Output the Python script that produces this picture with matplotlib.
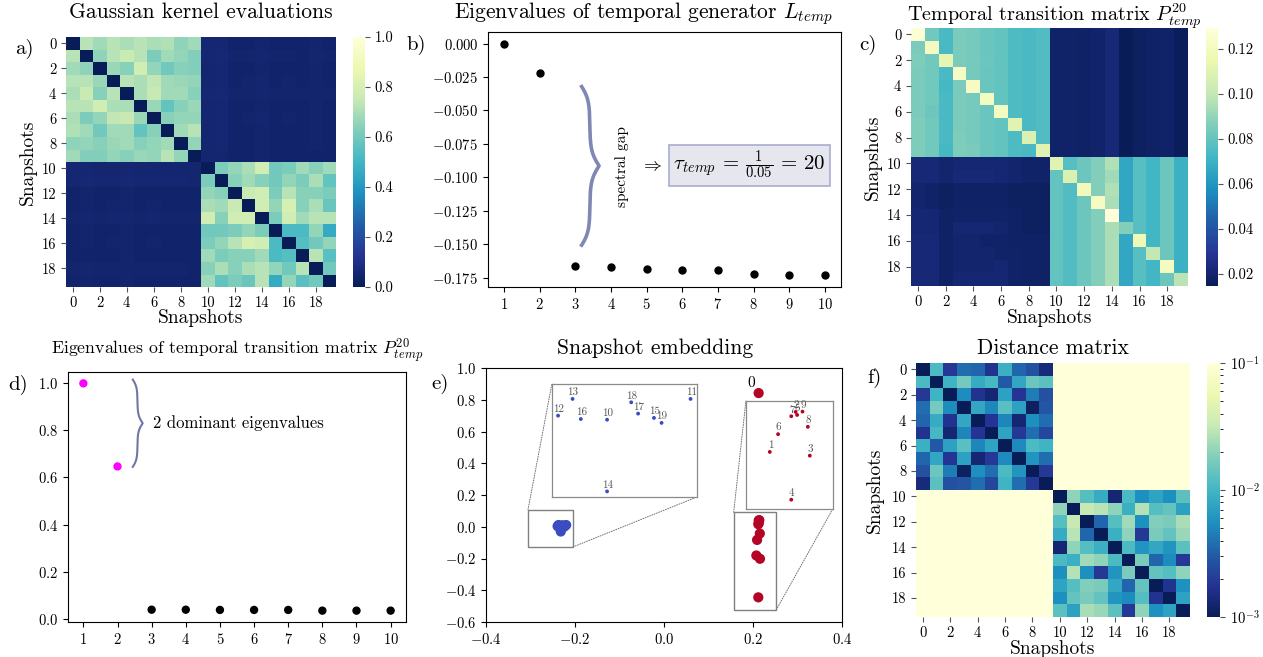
import numpy as np
import matplotlib
matplotlib.use('Agg')
import matplotlib.pyplot as plt
from matplotlib.colors import LogNorm, Normalize
from matplotlib.patches import Rectangle, ConnectionPatch

plt.rcParams['font.family'] = ['cmr10', 'DejaVu Serif']
plt.rcParams['mathtext.fontset'] = 'cm'
plt.rcParams['axes.formatter.use_mathtext'] = True
plt.rcParams['axes.unicode_minus'] = True

CMAP = 'YlGnBu_r'

# ---------------- data ----------------
snapshot_ticks = [str(i) for i in range(0, 20, 2)]

# a) Gaussian kernel evaluations (block top-left, bottom-right, off-diagonal top-right)
kernel_tl = [
    [0.00, 0.72, 0.68, 0.72, 0.70, 0.72, 0.70, 0.71, 0.65, 0.68],
    [0.72, 0.00, 0.65, 0.72, 0.76, 0.72, 0.62, 0.68, 0.66, 0.63],
    [0.68, 0.65, 0.00, 0.67, 0.64, 0.78, 0.66, 0.60, 0.64, 0.63],
    [0.72, 0.72, 0.67, 0.00, 0.72, 0.70, 0.74, 0.68, 0.67, 0.66],
    [0.70, 0.76, 0.64, 0.72, 0.00, 0.70, 0.75, 0.68, 0.68, 0.64],
    [0.72, 0.72, 0.78, 0.70, 0.70, 0.00, 0.67, 0.57, 0.64, 0.67],
    [0.70, 0.62, 0.66, 0.74, 0.75, 0.67, 0.00, 0.64, 0.66, 0.66],
    [0.71, 0.68, 0.60, 0.68, 0.68, 0.57, 0.64, 0.00, 0.68, 0.72],
    [0.65, 0.66, 0.64, 0.67, 0.68, 0.64, 0.66, 0.68, 0.00, 0.66],
    [0.68, 0.63, 0.63, 0.66, 0.64, 0.67, 0.66, 0.72, 0.66, 0.00],
]
kernel_br = [
    [0.00, 0.62, 0.66, 0.70, 0.78, 0.60, 0.62, 0.68, 0.64, 0.68],
    [0.62, 0.00, 0.64, 0.68, 0.64, 0.60, 0.66, 0.62, 0.70, 0.57],
    [0.66, 0.64, 0.00, 0.76, 0.78, 0.62, 0.72, 0.64, 0.64, 0.62],
    [0.70, 0.68, 0.76, 0.00, 0.78, 0.66, 0.80, 0.64, 0.70, 0.58],
    [0.78, 0.64, 0.78, 0.78, 0.00, 0.62, 0.78, 0.68, 0.72, 0.72],
    [0.60, 0.60, 0.62, 0.66, 0.62, 0.00, 0.52, 0.52, 0.66, 0.46],
    [0.62, 0.66, 0.72, 0.80, 0.78, 0.52, 0.00, 0.54, 0.60, 0.66],
    [0.68, 0.62, 0.64, 0.64, 0.68, 0.52, 0.54, 0.00, 0.72, 0.55],
    [0.64, 0.70, 0.64, 0.70, 0.72, 0.66, 0.60, 0.72, 0.00, 0.60],
    [0.68, 0.57, 0.62, 0.58, 0.72, 0.46, 0.66, 0.55, 0.60, 0.00],
]
kernel_off = [
    [0.055, 0.055, 0.040, 0.040, 0.045, 0.040, 0.040, 0.040, 0.045, 0.040],
    [0.055, 0.060, 0.045, 0.045, 0.050, 0.045, 0.045, 0.040, 0.050, 0.045],
    [0.050, 0.055, 0.040, 0.040, 0.045, 0.040, 0.040, 0.040, 0.045, 0.040],
    [0.050, 0.055, 0.040, 0.045, 0.050, 0.040, 0.045, 0.040, 0.045, 0.040],
    [0.055, 0.060, 0.045, 0.045, 0.050, 0.045, 0.045, 0.045, 0.045, 0.045],
    [0.050, 0.055, 0.040, 0.040, 0.045, 0.040, 0.040, 0.040, 0.045, 0.040],
    [0.050, 0.055, 0.040, 0.045, 0.050, 0.040, 0.045, 0.040, 0.045, 0.040],
    [0.050, 0.055, 0.040, 0.040, 0.045, 0.040, 0.040, 0.040, 0.045, 0.040],
    [0.050, 0.055, 0.040, 0.040, 0.045, 0.040, 0.040, 0.040, 0.045, 0.040],
    [0.050, 0.050, 0.040, 0.040, 0.045, 0.040, 0.040, 0.040, 0.040, 0.040],
]

# b) eigenvalues of temporal generator
eig_index = [1, 2, 3, 4, 5, 6, 7, 8, 9, 10]
gen_eigs = [0.0, -0.0218, -0.1666, -0.1671, -0.1686, -0.1690, -0.1696, -0.1723, -0.1728, -0.1733]

# c) temporal transition matrix P^20
trans_tl = [
    [0.127, 0.083, 0.074, 0.085, 0.084, 0.081, 0.080, 0.075, 0.074, 0.076],
    [0.085, 0.120, 0.074, 0.085, 0.084, 0.081, 0.080, 0.075, 0.074, 0.076],
    [0.086, 0.083, 0.112, 0.085, 0.084, 0.082, 0.080, 0.075, 0.074, 0.076],
    [0.085, 0.083, 0.074, 0.122, 0.084, 0.081, 0.080, 0.075, 0.074, 0.076],
    [0.085, 0.083, 0.073, 0.085, 0.122, 0.081, 0.080, 0.075, 0.074, 0.076],
    [0.085, 0.083, 0.074, 0.085, 0.084, 0.120, 0.080, 0.075, 0.074, 0.076],
    [0.085, 0.082, 0.074, 0.085, 0.084, 0.081, 0.120, 0.075, 0.074, 0.076],
    [0.086, 0.083, 0.074, 0.085, 0.084, 0.081, 0.080, 0.110, 0.074, 0.076],
    [0.086, 0.083, 0.074, 0.086, 0.084, 0.081, 0.080, 0.075, 0.108, 0.076],
    [0.086, 0.083, 0.073, 0.086, 0.085, 0.081, 0.080, 0.075, 0.074, 0.110],
]
trans_tr = [
    [0.019, 0.019, 0.018, 0.0195, 0.022, 0.0147, 0.017, 0.018, 0.019, 0.016],
    [0.019, 0.019, 0.018, 0.0195, 0.022, 0.0150, 0.017, 0.018, 0.019, 0.016],
    [0.019, 0.019, 0.018, 0.0195, 0.022, 0.0150, 0.017, 0.018, 0.019, 0.016],
    [0.019, 0.019, 0.018, 0.0195, 0.022, 0.0150, 0.017, 0.018, 0.019, 0.016],
    [0.019, 0.019, 0.018, 0.0195, 0.022, 0.0150, 0.017, 0.018, 0.019, 0.016],
    [0.019, 0.019, 0.018, 0.0195, 0.022, 0.0150, 0.017, 0.018, 0.019, 0.016],
    [0.019, 0.019, 0.018, 0.0195, 0.022, 0.0150, 0.017, 0.018, 0.019, 0.016],
    [0.019, 0.019, 0.018, 0.0195, 0.022, 0.0150, 0.017, 0.018, 0.019, 0.016],
    [0.019, 0.019, 0.018, 0.0195, 0.022, 0.0150, 0.017, 0.018, 0.019, 0.016],
    [0.019, 0.019, 0.018, 0.0195, 0.022, 0.0150, 0.017, 0.018, 0.019, 0.016],
]
trans_bl = [
    [0.022, 0.022, 0.020, 0.021, 0.021, 0.021, 0.021, 0.020, 0.019, 0.019],
    [0.022, 0.022, 0.020, 0.022, 0.022, 0.022, 0.021, 0.020, 0.019, 0.019],
    [0.020, 0.019, 0.017, 0.018, 0.018, 0.018, 0.018, 0.017, 0.017, 0.017],
    [0.020, 0.019, 0.017, 0.018, 0.018, 0.018, 0.018, 0.017, 0.017, 0.017],
    [0.021, 0.021, 0.018, 0.019, 0.019, 0.019, 0.019, 0.018, 0.017, 0.017],
    [0.021, 0.021, 0.018, 0.021, 0.021, 0.021, 0.020, 0.018, 0.017, 0.017],
    [0.022, 0.022, 0.018, 0.020, 0.020, 0.019, 0.019, 0.018, 0.018, 0.018],
    [0.022, 0.022, 0.018, 0.020, 0.020, 0.020, 0.019, 0.019, 0.018, 0.018],
    [0.022, 0.022, 0.018, 0.020, 0.020, 0.020, 0.021, 0.019, 0.018, 0.018],
    [0.022, 0.022, 0.018, 0.021, 0.021, 0.021, 0.021, 0.019, 0.018, 0.018],
]
trans_br = [
    [0.110, 0.077, 0.082, 0.087, 0.096, 0.066, 0.077, 0.072, 0.082, 0.070],
    [0.080, 0.108, 0.082, 0.087, 0.093, 0.066, 0.077, 0.072, 0.082, 0.070],
    [0.080, 0.076, 0.118, 0.087, 0.096, 0.066, 0.077, 0.072, 0.082, 0.070],
    [0.080, 0.076, 0.082, 0.121, 0.095, 0.066, 0.077, 0.072, 0.082, 0.070],
    [0.080, 0.076, 0.082, 0.087, 0.1293, 0.066, 0.077, 0.072, 0.082, 0.070],
    [0.080, 0.076, 0.082, 0.087, 0.095, 0.087, 0.077, 0.072, 0.082, 0.070],
    [0.080, 0.076, 0.082, 0.087, 0.095, 0.066, 0.116, 0.072, 0.082, 0.070],
    [0.080, 0.076, 0.082, 0.087, 0.095, 0.066, 0.077, 0.100, 0.082, 0.070],
    [0.080, 0.076, 0.082, 0.087, 0.095, 0.066, 0.077, 0.072, 0.120, 0.070],
    [0.080, 0.076, 0.082, 0.087, 0.095, 0.066, 0.077, 0.072, 0.082, 0.098],
]

# d) eigenvalues of P^20
trans_eigs = [1.0, 0.647, 0.038, 0.038, 0.037, 0.037, 0.037, 0.034, 0.034, 0.034]
dominant_count = 2

# e) snapshot embedding
emb_x = [0.2127, 0.2075, 0.2128, 0.2157, 0.2119, 0.2131, 0.2092, 0.2119, 0.2153, 0.2142,
         -0.2320, -0.2199, -0.2391, -0.2370, -0.2320, -0.2252, -0.2358, -0.2275, -0.2285, -0.2241]
emb_y = [0.842, -0.181, 0.0398, -0.2016, -0.4447, 0.0231, -0.083, 0.016, -0.0425, 0.0416,
         0.0017, 0.0109, 0.0035, 0.0109, -0.0300, 0.0025, 0.0020, 0.0044, 0.0094, 0.0003]
emb_cluster = [0] * 10 + [1] * 10
zoom_red_lims = ((0.2026, 0.2204), (-0.496, 0.100))
zoom_blue_lims = ((-0.240, -0.219), (-0.0325, 0.0175))
box_red = ((0.1566, 0.2524), (-0.5223, 0.0908))
box_blue = ((-0.3056, -0.2045), (-0.127, 0.1076))

# f) distance matrix
dist_tl = [
    [0.0008, 0.011, 0.0019, 0.0038, 0.0035, 0.0017, 0.009, 0.0035, 0.0026, 0.0014],
    [0.011, 0.0008, 0.0098, 0.016, 0.0085, 0.0105, 0.0029, 0.0078, 0.015, 0.013],
    [0.0019, 0.0098, 0.0008, 0.0054, 0.0017, 0.0013, 0.0072, 0.0018, 0.0045, 0.0026],
    [0.0038, 0.016, 0.0054, 0.0008, 0.0078, 0.005, 0.0125, 0.0072, 0.0011, 0.0028],
    [0.0035, 0.0085, 0.0017, 0.0078, 0.0008, 0.0018, 0.005, 0.0013, 0.0056, 0.0038],
    [0.0017, 0.0105, 0.0013, 0.005, 0.0018, 0.0008, 0.0075, 0.0019, 0.0038, 0.0023],
    [0.009, 0.0029, 0.0072, 0.0125, 0.005, 0.0075, 0.0008, 0.0052, 0.011, 0.0098],
    [0.0035, 0.0078, 0.0018, 0.0072, 0.0013, 0.0019, 0.0052, 0.0008, 0.006, 0.0038],
    [0.0026, 0.015, 0.0045, 0.0011, 0.0056, 0.0038, 0.011, 0.006, 0.0008, 0.0019],
    [0.0014, 0.013, 0.0026, 0.0028, 0.0038, 0.0023, 0.0098, 0.0038, 0.0019, 0.0008],
]
dist_br = [
    [0.0008, 0.020, 0.012, 0.0085, 0.0013, 0.011, 0.0056, 0.0075, 0.0056, 0.013],
    [0.020, 0.0008, 0.032, 0.028, 0.020, 0.009, 0.027, 0.012, 0.014, 0.0072],
    [0.012, 0.032, 0.0008, 0.0035, 0.012, 0.023, 0.0056, 0.018, 0.017, 0.025],
    [0.0085, 0.028, 0.0035, 0.0008, 0.009, 0.020, 0.0019, 0.017, 0.014, 0.022],
    [0.0013, 0.020, 0.012, 0.009, 0.0008, 0.011, 0.006, 0.0078, 0.006, 0.013],
    [0.011, 0.009, 0.023, 0.020, 0.011, 0.0008, 0.017, 0.0035, 0.0053, 0.0019],
    [0.0056, 0.027, 0.0056, 0.0019, 0.006, 0.017, 0.0008, 0.014, 0.012, 0.020],
    [0.0075, 0.012, 0.018, 0.017, 0.0078, 0.0035, 0.014, 0.0008, 0.0017, 0.0057],
    [0.0056, 0.014, 0.017, 0.014, 0.006, 0.0053, 0.012, 0.0017, 0.0008, 0.0073],
    [0.013, 0.0072, 0.025, 0.022, 0.013, 0.0019, 0.020, 0.0057, 0.0073, 0.0008],
]
dist_between = 0.3  # between-cluster distances (above colour range)

# ---------------- figure ----------------
W, H = 1263, 657
fig = plt.figure(figsize=(W / 100, H / 100), dpi=100)


def px_axes(l, t, r, b):
    return fig.add_axes([l / W, 1 - b / H, (r - l) / W, (b - t) / H])


def assemble(tl, tr, bl, br):
    return np.block([[np.array(tl), np.array(tr)], [np.array(bl), np.array(br)]])


def heatmap(ax, cax, M, norm):
    n = M.shape[0]
    mesh = ax.pcolormesh(M, cmap=CMAP, norm=norm, edgecolors='face', linewidth=0)
    ax.set_xlim(0, n)
    ax.set_ylim(n, 0)
    pos = np.arange(0, n, 2) + 0.5
    ax.set_xticks(pos)
    ax.set_xticklabels(snapshot_ticks)
    ax.set_yticks(pos)
    ax.set_yticklabels(snapshot_ticks, rotation=0)
    for s in ax.spines.values():
        s.set_visible(False)
    ax.tick_params(labelsize=10.5, color='#555555')
    cb = fig.colorbar(mesh, cax=cax)
    cb.outline.set_visible(False)
    cax.tick_params(labelsize=10.5, color='#555555')
    return cb


def brace(ax, x0, width, y0, y1, color, lw):
    n = 401
    t = np.linspace(0, 1, n)
    half = t[:n // 2 + 1]
    beta = 22.0
    h = 1 / (1 + np.exp(-beta * (half - half[0]))) + 1 / (1 + np.exp(-beta * (half - half[-1])))
    prof = np.concatenate((h, h[-2::-1])) - 0.5
    ax.plot(x0 + width * prof, y0 + (y1 - y0) * t, transform=ax.transAxes,
            color=color, lw=lw, clip_on=False, solid_capstyle='butt')


def label(x, y, s):
    fig.text(x / W, 1 - y / H, s, fontsize=15, ha='center', va='center')


# a) kernel
kernel_tr = np.array(kernel_off)
K = assemble(kernel_tl, kernel_tr, kernel_tr.T, kernel_br)
ax_a = px_axes(66, 37, 336, 287)
cax_a = px_axes(353, 37, 365, 287)
cb_a = heatmap(ax_a, cax_a, K, Normalize(vmin=0, vmax=1))
cb_a.set_ticks([0.0, 0.2, 0.4, 0.6, 0.8, 1.0])
cb_a.set_ticklabels(['0.0', '0.2', '0.4', '0.6', '0.8', '1.0'])
ax_a.set_title('Gaussian kernel evaluations', fontsize=15.5, pad=13.5)
ax_a.set_xlabel('Snapshots', fontsize=14)
ax_a.set_ylabel('Snapshots', fontsize=14)
ax_a.xaxis.set_label_coords(0.5, -0.09)
ax_a.yaxis.set_label_coords(-0.108, 0.5)
label(24, 49, 'a)')

# b) generator eigenvalues
ax_b = px_axes(488, 32, 841, 287)
ax_b.scatter(eig_index, gen_eigs, s=25, color='black', zorder=3)
ax_b.set_xticks(eig_index)
ax_b.tick_params(labelsize=10.5)
t_b = ax_b.set_title(r'Eigenvalues of temporal generator $L_{temp}$', fontsize=15.5, pad=9.6)
t_b.set_x(0.439)
brace(ax_b, 0.2626, 0.052, 0.158, 0.792, '#7f87b2', 2.6)
ax_b.text(0.380, 0.473, 'spectral gap', rotation=90, fontsize=11, ha='center', va='center',
          transform=ax_b.transAxes)
ax_b.text(0.462, 0.475, r'$\Rightarrow$', fontsize=13, ha='center', va='center',
          transform=ax_b.transAxes)
ax_b.text(0.741, 0.478, r'$\tau_{temp}\,=\,\frac{1}{0.05}\,=\,20$', fontsize=15, ha='center',
          va='center', transform=ax_b.transAxes,
          bbox=dict(boxstyle='square,pad=0.2', facecolor='#e6e6ee', edgecolor='#a9add0', lw=1.2))
label(416, 45, 'b)')

# c) transition matrix
P = assemble(trans_tl, trans_tr, trans_bl, trans_br)
ax_c = px_axes(911, 28, 1188, 286)
cax_c = px_axes(1206, 28, 1218, 286)
cb_c = heatmap(ax_c, cax_c, P, Normalize(vmin=P.min(), vmax=P.max()))
cb_c.set_ticks([0.02, 0.04, 0.06, 0.08, 0.10, 0.12])
cb_c.set_ticklabels(['0.02', '0.04', '0.06', '0.08', '0.10', '0.12'])
fig.text(1054 / W, 1 - 21 / H, r'Temporal transition matrix $P^{20}_{temp}$', fontsize=14.5,
         ha='center', va='baseline')
ax_c.set_xlabel('Snapshots', fontsize=14)
ax_c.set_ylabel('Snapshots', fontsize=14)
ax_c.xaxis.set_label_coords(0.5, -0.088)
ax_c.yaxis.set_label_coords(-0.106, 0.5)
label(868, 45, 'c)')

# d) transition eigenvalues
ax_d = px_axes(68, 372, 406, 622)
d_colors = ['#ff00ff'] * dominant_count + ['black'] * (len(trans_eigs) - dominant_count)
ax_d.scatter(eig_index, trans_eigs, s=25, c=d_colors, zorder=3)
ax_d.set_xticks(eig_index)
ax_d.tick_params(labelsize=10.5)
ax_d.set_title(r'Eigenvalues of temporal transition matrix $P^{20}_{temp}$', fontsize=12.8, pad=12.5)
brace(ax_d, 0.190, 0.031, 0.617, 0.973, '#7077a8', 1.5)
ax_d.text(0.251, 0.796, '2 dominant eigenvalues', fontsize=12, ha='left', va='center',
          transform=ax_d.transAxes)
label(18, 385, 'd)')

# e) embedding
red, blue = '#b40426', '#3b4cc0'
ex = np.array(emb_x)
ey = np.array(emb_y)
ec = np.array([red if c == 0 else blue for c in emb_cluster])
ax_e = px_axes(486, 368, 842, 622)
ax_e.scatter(ex, ey, s=40, c=ec, zorder=3)
ax_e.set_xlim(-0.4, 0.4)
ax_e.set_ylim(-0.6, 1.0)
ax_e.set_xticks([-0.4, -0.2, 0.0, 0.2, 0.4])
ax_e.set_yticks([-0.6, -0.4, -0.2, 0.0, 0.2, 0.4, 0.6, 0.8, 1.0])
ax_e.tick_params(labelsize=10.5)
t_e = ax_e.set_title('Snapshot embedding', fontsize=15.5, pad=10)
t_e.set_x(0.475)
ax_e.annotate('0', (ex[0], ey[0]), xytext=(-5.5, 2.5), textcoords='offset points',
              ha='center', va='bottom', fontsize=11)
label(440, 384, 'e)')

insets = [
    ([0.185, 0.492, 0.407, 0.445], zoom_blue_lims, box_blue, 1),
    ([0.730, 0.445, 0.244, 0.425], zoom_red_lims, box_red, 0),
]
for bounds, lims, box, cl in insets:
    axi = ax_e.inset_axes(bounds)
    sel = [i for i, c in enumerate(emb_cluster) if c == cl]
    axi.scatter(ex[sel], ey[sel], s=3, c=ec[sel], zorder=3)
    for i in sel:
        axi.annotate(str(i), (ex[i], ey[i]), xytext=(0.4, 1.2), textcoords='offset points',
                     ha='center', va='bottom', fontsize=8, color='#555555')
    axi.set_xlim(*lims[0])
    axi.set_ylim(*lims[1])
    axi.set_xticks([])
    axi.set_yticks([])
    for s in axi.spines.values():
        s.set_color('#8a8a8a')
        s.set_linewidth(0.9)
    (bx0, bx1), (by0, by1) = box
    ax_e.add_patch(Rectangle((bx0, by0), bx1 - bx0, by1 - by0, fill=False,
                             edgecolor='#808080', lw=1.0, zorder=4))
    for pa, pb in [((bx0, by1), (0, 1)), ((bx1, by0), (1, 0))]:
        con = ConnectionPatch(xyA=pa, coordsA=ax_e.transData, xyB=pb, coordsB=axi.transAxes,
                              color='#707070', lw=0.7, ls=(0, (1, 1.5)))
        ax_e.add_artist(con)

# f) distance matrix
offb = np.full((10, 10), dist_between)
D = assemble(dist_tl, offb, offb, dist_br)
ax_f = px_axes(916, 363, 1190, 617)
cax_f = px_axes(1207, 363, 1220, 617)
heatmap(ax_f, cax_f, D, LogNorm(vmin=1e-3, vmax=1e-1))
ax_f.set_title('Distance matrix', fontsize=15.5, pad=6.7)
ax_f.set_xlabel('Snapshots', fontsize=14)
ax_f.set_ylabel('Snapshots', fontsize=14)
ax_f.xaxis.set_label_coords(0.5, -0.09)
ax_f.yaxis.set_label_coords(-0.116, 0.5)
label(874, 378, 'f)')

fig.savefig('out.png', dpi=100)
